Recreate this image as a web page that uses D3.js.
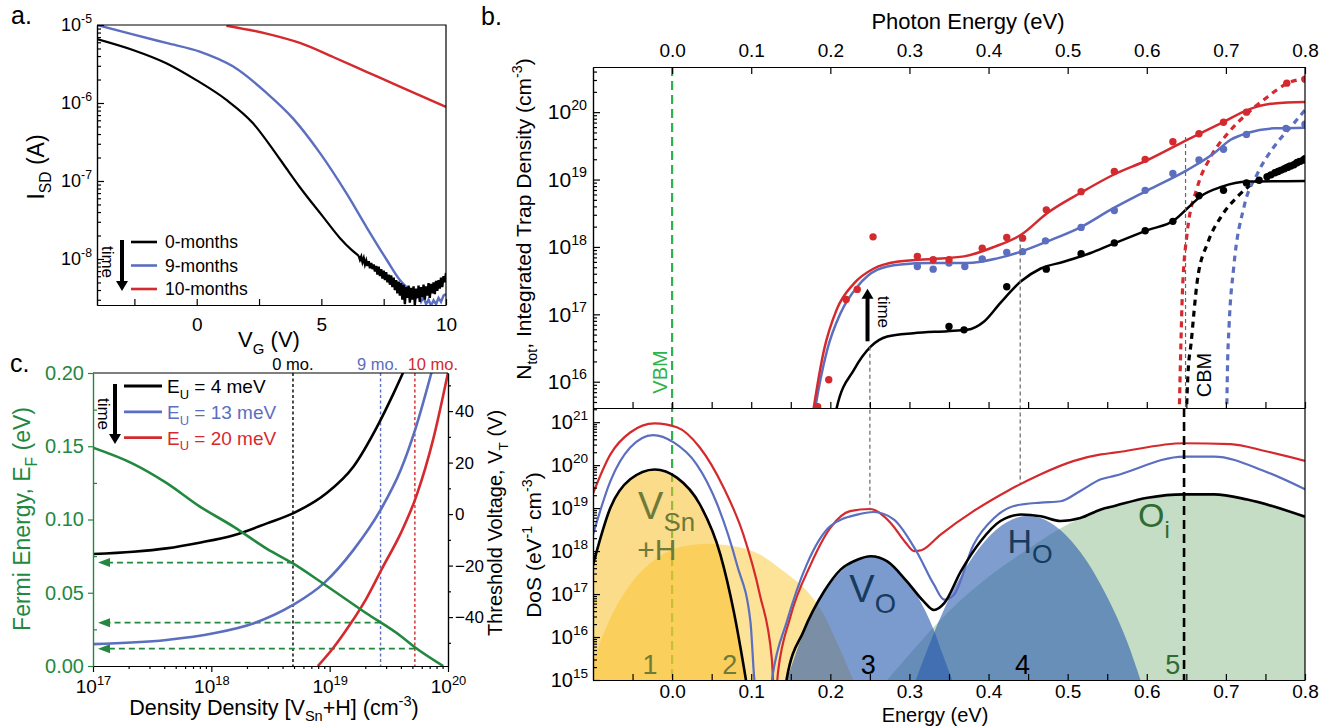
<!DOCTYPE html>
<html>
<head>
<meta charset="utf-8">
<script src="https://cdn.jsdelivr.net/npm/d3@7"></script>
<style>
  body { margin: 0; background: #fff; }
  svg { display: block; }
</style>
</head>
<body>
<svg id="fig" width="1331" height="726"></svg>
<script>
// ---------------- data (log10 values wherever the axis is logarithmic) ----------------

// panel a: transfer curves  [V_G (V), log10 I_SD]
const a0months = [[-4, -5.18], [-2.56, -5.32], [-1.22, -5.49], [0, -5.71], [1.19, -5.96], [2.26, -6.26],
  [3.07, -6.6], [3.6, -6.84], [4.14, -7.08], [5.07, -7.46], [5.74, -7.73], [6.2, -7.88], [6.5, -7.96]];
const a0monthsNoise = [[6.5, -7.96], [6.55, -8.01], [6.6, -7.97], [6.65, -8.04], [6.7, -7.99], [6.75, -8.07],
  [6.8, -8.02], [6.85, -8.09], [6.9, -8.03], [6.95, -8.12], [7.0, -8.05], [7.05, -8.13], [7.1, -8.07],
  [7.15, -8.16], [7.2, -8.09], [7.25, -8.2], [7.3, -8.1], [7.35, -8.22], [7.4, -8.13], [7.45, -8.25],
  [7.5, -8.15], [7.55, -8.27], [7.6, -8.17], [7.65, -8.3], [7.7, -8.2], [7.75, -8.33], [7.8, -8.21],
  [7.85, -8.36], [7.9, -8.24], [7.95, -8.4], [8.0, -8.27], [8.05, -8.44], [8.1, -8.29], [8.15, -8.47],
  [8.2, -8.31], [8.25, -8.52], [8.3, -8.33], [8.35, -8.58], [8.4, -8.36], [8.45, -8.5], [8.5, -8.34],
  [8.55, -8.56], [8.6, -8.37], [8.65, -8.52], [8.7, -8.35], [8.75, -8.59], [8.8, -8.38], [8.85, -8.5],
  [8.9, -8.34], [8.95, -8.55], [9.0, -8.36], [9.05, -8.49], [9.1, -8.33], [9.15, -8.52], [9.2, -8.35],
  [9.25, -8.47], [9.3, -8.31], [9.35, -8.5], [9.4, -8.32], [9.45, -8.44], [9.5, -8.3], [9.55, -8.45],
  [9.6, -8.28], [9.65, -8.41], [9.7, -8.27], [9.75, -8.38], [9.8, -8.24], [9.85, -8.36], [9.9, -8.22],
  [9.95, -8.3], [10.0, -8.18]];
const a9months = [[-4, -5.0], [-2.56, -5.12], [-1.22, -5.23], [0.12, -5.34], [1.45, -5.53], [2.8, -5.87],
  [3.87, -6.2], [4.94, -6.64], [6.01, -7.16], [6.81, -7.59], [7.62, -8.01], [8.15, -8.27], [8.69, -8.44]];
const a9monthsNoise = [[8.69, -8.44], [8.8, -8.5], [8.9, -8.46], [9.0, -8.55], [9.1, -8.49], [9.2, -8.58],
  [9.3, -8.52], [9.4, -8.6], [9.5, -8.53], [9.6, -8.58], [9.7, -8.5], [9.8, -8.55], [9.9, -8.47], [10, -8.45]];
const a10months = [[1.19, -5.01], [2.8, -5.11], [4.14, -5.23], [5.47, -5.41], [6.81, -5.6], [8.15, -5.79], [10, -6.05]];
const aLegend = ["0-months", "9-months", "10-months"];

// panel c: [log10 density, value]
const cFermi = [[17, 0.149], [17.34, 0.138], [17.62, 0.125], [17.9, 0.109], [18.19, 0.095], [18.47, 0.08],
  [18.69, 0.07], [18.95, 0.056], [19.31, 0.036], [19.6, 0.0205], [19.72, 0.0128], [19.96, 0.0]];
const cEU4 = [[17, -15.5], [17.34, -14.6], [17.62, -13.3], [17.9, -11.1], [18.19, -8.2], [18.47, -3.6],
  [18.69, 0.3], [18.97, 8.0], [19.2, 18.4], [19.4, 33.9], [19.54, 46.9], [19.62, 54.9]];
const cEU13 = [[17, -50.5], [17.62, -48.9], [18.02, -46.3], [18.36, -42.4], [18.69, -35.3], [18.95, -26.9],
  [19.2, -14.0], [19.43, 1.6], [19.6, 17.1], [19.73, 33.9], [19.86, 54.9]];
const cEU20 = [[18.9, -59], [19.03, -52], [19.17, -43], [19.31, -32.8], [19.45, -20.5], [19.6, -7.5],
  [19.73, 6.7], [19.88, 30], [20.0, 54.9]];
const cLegend = ["4", "13", "20"];                 // E_U in meV
const cMonthLabels = ["0 mo.", "9 mo.", "10 mo."];
const cMonthDensity = [18.69, 19.43, 19.72];       // log10 density of each ageing state
const cMonthFermi = [0.0706, 0.0296, 0.0118];      // read-off Fermi energy (eV)

// panel b (top): integrated trap density [photon energy, log10 N]
const bFitRed = [[0.175, 15.3], [0.179, 15.61], [0.192, 16.47], [0.208, 17.07], [0.23, 17.46], [0.255, 17.68],
  [0.284, 17.78], [0.327, 17.82], [0.369, 17.86], [0.407, 18.0], [0.441, 18.18], [0.474, 18.5], [0.516, 18.8],
  [0.556, 19.06], [0.601, 19.29], [0.651, 19.59], [0.698, 19.86], [0.727, 20.03], [0.761, 20.13], [0.8, 20.15]];
const bFitBlue = [[0.177, 15.3], [0.181, 15.61], [0.196, 16.47], [0.213, 17.02], [0.234, 17.41], [0.259, 17.66],
  [0.289, 17.74], [0.327, 17.76], [0.373, 17.76], [0.411, 17.83], [0.441, 17.93], [0.474, 18.08], [0.516, 18.29],
  [0.554, 18.55], [0.601, 18.84], [0.651, 19.14], [0.685, 19.39], [0.706, 19.59], [0.727, 19.69], [0.761, 19.76], [0.8, 19.77]];
const bFitBlack = [[0.203, 15.3], [0.208, 15.61], [0.23, 16.18], [0.251, 16.52], [0.272, 16.67], [0.305, 16.72],
  [0.348, 16.75], [0.373, 16.77], [0.394, 16.89], [0.415, 17.17], [0.441, 17.49], [0.466, 17.68], [0.495, 17.78],
  [0.529, 17.91], [0.554, 18.03], [0.601, 18.25], [0.635, 18.4], [0.651, 18.57], [0.668, 18.75], [0.694, 18.89],
  [0.727, 18.97], [0.8, 18.98]];
const bDotsRed = [[0.184, 15.63], [0.198, 16.03], [0.22, 17.22], [0.234, 17.37], [0.254, 18.15], [0.31, 17.86],
  [0.33, 17.81], [0.35, 17.81], [0.392, 17.98], [0.423, 18.14], [0.443, 18.13], [0.473, 18.55], [0.517, 18.82],
  [0.559, 19.12], [0.598, 19.3], [0.633, 19.56], [0.666, 19.68], [0.697, 19.85], [0.726, 20.0], [0.777, 20.43], [0.8, 20.49]];
const bDotsBlue = [[0.31, 17.71], [0.33, 17.67], [0.35, 17.76], [0.37, 17.71], [0.392, 17.82], [0.423, 17.92],
  [0.443, 17.93], [0.472, 18.09], [0.517, 18.29], [0.559, 18.54], [0.598, 18.84], [0.633, 19.09], [0.666, 19.29],
  [0.697, 19.45], [0.726, 19.67], [0.776, 19.76], [0.8, 19.82]];
const bDotsBlack = [[0.35, 16.82], [0.369, 16.77], [0.423, 17.41], [0.473, 17.67], [0.517, 17.9], [0.559, 18.06],
  [0.598, 18.24], [0.633, 18.38], [0.666, 18.76], [0.697, 18.84], [0.726, 18.95], [0.742, 18.99], [0.752, 19.04],
  [0.757, 19.07], [0.762, 19.1], [0.766, 19.12], [0.77, 19.14], [0.774, 19.16], [0.778, 19.18], [0.782, 19.2],
  [0.786, 19.22], [0.79, 19.25], [0.794, 19.27], [0.798, 19.29], [0.8, 19.31]];
const bTailRed = [[0.641, 15.5], [0.643, 16.5], [0.645, 17.31], [0.651, 18.2], [0.664, 18.89], [0.681, 19.34],
  [0.702, 19.68], [0.727, 19.98], [0.753, 20.23], [0.778, 20.43], [0.8, 20.5]];
const bTailBlack = [[0.65, 15.5], [0.652, 16.1], [0.656, 16.57], [0.664, 17.51], [0.677, 18.06], [0.694, 18.45],
  [0.715, 18.75], [0.74, 18.99], [0.761, 19.12], [0.8, 19.34]];
const bTailBlue = [[0.701, 15.5], [0.702, 16.2], [0.704, 16.82], [0.71, 17.71], [0.723, 18.6], [0.74, 19.09],
  [0.761, 19.49], [0.782, 19.78], [0.8, 20.03]];

// panel b (bottom): density of states [energy, log10 DoS]
const bDosRed = [[-0.1, 19.34], [-0.078, 20.25], [-0.053, 20.76], [-0.022, 20.97], [0.006, 20.88], [0.035, 20.41],
  [0.065, 19.48], [0.09, 18.39], [0.111, 16.98], [0.126, 15.5], [0.129, 14.7], [0.131, 14.7], [0.134, 15.2],
  [0.149, 16.44], [0.175, 17.68], [0.2, 18.54], [0.225, 18.93], [0.25, 18.98], [0.276, 18.66], [0.295, 18.2],
  [0.306, 18.0], [0.315, 18.02], [0.339, 18.38], [0.381, 18.93], [0.424, 19.4], [0.466, 19.79], [0.508, 20.1],
  [0.542, 20.25], [0.559, 20.29], [0.647, 20.51], [0.706, 20.49], [0.749, 20.33], [0.8, 20.1]];
const bDosBlue = [[-0.1, 18.38], [-0.078, 19.63], [-0.053, 20.41], [-0.024, 20.7], [0.002, 20.53], [0.031, 20.02],
  [0.057, 19.09], [0.082, 17.68], [0.099, 16.36], [0.104, 15.0], [0.106, 14.7], [0.124, 14.7], [0.127, 15.1],
  [0.145, 16.36], [0.17, 17.68], [0.2, 18.58], [0.234, 18.85], [0.255, 18.91], [0.28, 18.74], [0.309, 17.99],
  [0.331, 17.22], [0.344, 16.87], [0.356, 16.98], [0.381, 18.15], [0.407, 18.77], [0.432, 19.05], [0.466, 19.13],
  [0.491, 19.16], [0.516, 19.4], [0.542, 19.67], [0.559, 19.75], [0.647, 20.2], [0.685, 20.2], [0.749, 19.86], [0.8, 19.44]];
const bDosBlack = [[-0.1, 17.68], [-0.078, 19.01], [-0.053, 19.67], [-0.022, 19.9], [0.006, 19.71], [0.035, 19.09],
  [0.061, 17.92], [0.078, 16.59], [0.093, 15.04], [0.096, 14.7], [0.142, 14.7], [0.145, 15.04], [0.166, 16.13],
  [0.192, 17.06], [0.213, 17.57], [0.234, 17.8], [0.251, 17.88], [0.272, 17.76], [0.297, 17.29], [0.318, 16.83],
  [0.331, 16.63], [0.344, 16.79], [0.365, 17.53], [0.39, 18.23], [0.415, 18.7], [0.441, 18.85], [0.466, 18.81],
  [0.491, 18.7], [0.516, 18.77], [0.542, 18.97], [0.559, 19.05], [0.601, 19.24], [0.647, 19.32], [0.685, 19.32],
  [0.727, 19.2], [0.8, 18.8]];
// individual defect distributions (filled)
const bPeak1 = [[-0.1, 17.6], [-0.078, 18.98], [-0.053, 19.65], [-0.022, 19.9], [0.006, 19.7], [0.035, 19.07],
  [0.061, 17.88], [0.078, 16.5], [0.093, 15.0]];
const bPeak2 = [[-0.1, 15.43], [-0.078, 16.44], [-0.053, 17.22], [-0.019, 17.84], [0.014, 18.11], [0.044, 18.17],
  [0.078, 18.11], [0.111, 17.92], [0.141, 17.53], [0.171, 17.06], [0.192, 16.52], [0.208, 15.89], [0.229, 15.0]];
const bPeak3 = [[0.145, 15.0], [0.166, 16.1], [0.192, 17.03], [0.213, 17.52], [0.234, 17.8], [0.25, 17.88],
  [0.268, 17.8], [0.29, 17.45], [0.31, 16.95], [0.33, 16.2], [0.342, 15.6], [0.354, 15.0]];
const bPeak4 = [[0.308, 15.0], [0.33, 16.05], [0.352, 16.97], [0.38, 17.86], [0.41, 18.5], [0.45, 18.82],
  [0.483, 18.6], [0.516, 17.98], [0.55, 16.93], [0.575, 15.9], [0.592, 15.0]];
const bPeak5 = [[0.272, 15.0], [0.3, 15.6], [0.35, 16.6], [0.4, 17.4], [0.45, 18.05], [0.49, 18.52], [0.52, 18.8],
  [0.56, 19.05], [0.6, 19.22], [0.65, 19.32], [0.69, 19.32], [0.73, 19.2], [0.77, 19.02], [0.8, 18.8]];
const bGuideE = [0.25, 0.44];          // grey guides
const bGuideTop = [16.52, 18.14];      // log10 N where they start (top plot)
const bGuideBottom = [18.95, 19.55];   // log10 DoS where they end (bottom plot)
const bCBM = 0.649, bCBMTop = 19.63;

// ---------------- drawing ----------------
const FONT = "'Liberation Sans', Arial, Helvetica, sans-serif";
const RED = "#d42a2e", BLUE = "#5b6ec0", BLACK = "#000";
const FERMI = "#23883f", VBMC = "#2db34a";
const OLIVE = "#6d7a3a", NAVY = "#173b5e", DKGREEN = "#2f6b32";

const svg = d3.select("#fig").attr("font-family", FONT);
const defs = svg.append("defs");
function clip(id, x0, y0, x1, y1) {
  defs.append("clipPath").attr("id", id).append("rect")
    .attr("x", x0).attr("y", y0).attr("width", x1 - x0).attr("height", y1 - y0);
  return `url(#${id})`;
}
function fixAxis(g, size, color = "#000") {
  g.attr("font-family", FONT).attr("font-size", size);
  g.selectAll(".domain").attr("stroke", color).attr("stroke-width", 1.2);
  g.selectAll(".tick line").attr("stroke", color).attr("stroke-width", 1.2);
  g.selectAll(".tick text").attr("fill", color);
  return g;
}
function powLabels(g, size) {
  g.selectAll(".tick text").each(function (d) {
    const t = d3.select(this).text(null);
    t.append("tspan").text("10");
    t.append("tspan").attr("dy", -size * 0.45).attr("font-size", size * 0.68).text(Math.round(Math.log10(d)));
  });
}
const isDecade = v => Math.abs(Math.log10(v) - Math.round(Math.log10(v))) < 1e-6;
function rich(parent, x, y, parts, size, opt = {}) {
  const t = parent.append("text").attr("x", x).attr("y", y).attr("font-size", size)
    .attr("text-anchor", opt.anchor || "start").attr("fill", opt.fill || "#000");
  if (opt.rotate) t.attr("transform", `rotate(${opt.rotate},${x},${y})`);
  let shift = 0;
  parts.forEach(([str, kind, sc]) => {
    const target = kind === "sub" ? size * 0.3 : kind === "sup" ? -size * 0.42 : 0;
    const s = t.append("tspan").attr("dy", target - shift).text(str);
    if (kind) s.attr("font-size", size * (sc || 0.68));
    shift = target;
  });
  return t;
}
function downArrow(g, x, y0, y1, up) {
  const dir = up ? -1 : 1;
  g.append("line").attr("x1", x).attr("x2", x).attr("y1", y0).attr("y2", y1 - dir * 9)
    .attr("stroke", "#000").attr("stroke-width", 4);
  g.append("path").attr("d", `M${x - 6},${y1 - dir * 10}L${x + 6},${y1 - dir * 10}L${x},${y1}Z`).attr("fill", "#000");
}

// ===== panel a =====
const xA = d3.scaleLinear().domain([-4, 10]).range([97, 446]);
const yA = d3.scaleLog().domain([10 ** -8.59, 1e-5]).range([305, 25]);
const gA = svg.append("g");
const lineA = d3.line().x(d => xA(d[0])).y(d => yA(10 ** d[1]));
const plotA = gA.append("g").attr("clip-path", clip("clipA", 97, 25, 446, 305));
plotA.append("path").attr("d", lineA.curve(d3.curveMonotoneX)(a10months)).attr("fill", "none").attr("stroke", RED).attr("stroke-width", 2.4);
plotA.append("path").attr("d", lineA.curve(d3.curveMonotoneX)(a9months)).attr("fill", "none").attr("stroke", BLUE).attr("stroke-width", 2.4);
plotA.append("path").attr("d", lineA.curve(d3.curveLinear)(a9monthsNoise)).attr("fill", "none").attr("stroke", BLUE).attr("stroke-width", 2.4);
plotA.append("path").attr("d", lineA.curve(d3.curveMonotoneX)(a0months)).attr("fill", "none").attr("stroke", BLACK).attr("stroke-width", 2.2);
plotA.append("path").attr("d", lineA.curve(d3.curveLinear)(a0monthsNoise)).attr("fill", "none").attr("stroke", BLACK).attr("stroke-width", 2.4);

gA.append("path").attr("d", `M${xA(-4)},${yA(1e-5)}H${xA(10)}V${yA.range()[0]}`).attr("fill", "none").attr("stroke", "#000").attr("stroke-width", 1.2);
fixAxis(gA.append("g").attr("transform", "translate(0,305)")
  .call(d3.axisBottom(xA).tickValues([-2.5, 0, 2.5, 5, 7.5, 10]).tickSize(-6).tickSizeOuter(0).tickPadding(13)
    .tickFormat(d => d % 5 === 0 ? d : "")), 19);
const aMaj = yA.ticks().filter(isDecade);
const axAL = gA.append("g").attr("transform", "translate(97,0)")
  .call(d3.axisLeft(yA).tickValues(aMaj).tickSize(-7).tickSizeOuter(0).tickPadding(5));
powLabels(axAL, 18); fixAxis(axAL, 18);
fixAxis(gA.append("g").attr("transform", "translate(97,0)")
  .call(d3.axisLeft(yA).tickValues(yA.ticks().filter(v => !isDecade(v))).tickSize(-4).tickSizeOuter(0).tickFormat("")), 18);

gA.append("text").attr("x", 11).attr("y", 24).attr("font-size", 25).text("a.");
rich(gA, 44, 167, [["I"], ["SD", "sub"], [" (A)"]], 23, { anchor: "middle", rotate: -90 });
rich(gA, 269, 347, [["V"], ["G", "sub"], [" (V)"]], 22, { anchor: "middle" });
[BLACK, BLUE, RED].forEach((c, i) => {
  const y = 242 + i * 23.5;
  gA.append("line").attr("x1", 131).attr("x2", 157).attr("y1", y).attr("y2", y).attr("stroke", c).attr("stroke-width", 2.6);
  gA.append("text").attr("x", 165).attr("y", y + 6).attr("font-size", 17.5).text(aLegend[i]);
});
downArrow(gA, 122, 240, 291);
gA.append("text").attr("x", 102).attr("y", 262).attr("font-size", 17).attr("text-anchor", "middle")
  .attr("transform", "rotate(90,102,262)").text("time");

// ===== panel c =====
const xC = d3.scaleLog().domain([1e17, 1e20]).range([93, 448]);
const yCL = d3.scaleLinear().domain([0, 0.2]).range([666, 373]);
const yCR = d3.scaleLinear().domain([-59.0, 54.8]).range([666, 373]);
const gC = svg.append("g");
const plotC = gC.append("g").attr("clip-path", clip("clipC", 93, 373, 448, 666));
const lineCR = d3.line().x(d => xC(10 ** d[0])).y(d => yCR(d[1])).curve(d3.curveMonotoneX);
const lineCL = d3.line().x(d => xC(10 ** d[0])).y(d => yCL(d[1])).curve(d3.curveMonotoneX);
const cColors = [BLACK, BLUE, RED];
cMonthDensity.forEach((n, i) => {
  plotC.append("line").attr("x1", xC(10 ** n)).attr("x2", xC(10 ** n)).attr("y1", yCL(0.2)).attr("y2", yCL(0))
    .attr("stroke", cColors[i]).attr("stroke-width", 1.4).attr("stroke-dasharray", "3,2.5");
  const ya = yCL(cMonthFermi[i]);
  plotC.append("line").attr("x1", xC(10 ** n)).attr("x2", 106).attr("y1", ya).attr("y2", ya)
    .attr("stroke", FERMI).attr("stroke-width", 1.8).attr("stroke-dasharray", "6,4");
  plotC.append("path").attr("d", `M${xC(1e17) + 5},${ya}L${xC(1e17) + 17},${ya - 4.5}L${xC(1e17) + 17},${ya + 4.5}Z`).attr("fill", FERMI);
});
[cEU4, cEU13, cEU20].forEach((s, i) => {
  plotC.append("path").attr("d", lineCR(s)).attr("fill", "none").attr("stroke", cColors[i]).attr("stroke-width", 2.6);
});
plotC.append("path").attr("d", lineCL(cFermi)).attr("fill", "none").attr("stroke", FERMI).attr("stroke-width", 2.6);

gC.append("line").attr("x1", 93).attr("x2", 448).attr("y1", 373).attr("y2", 373).attr("stroke", "#000").attr("stroke-width", 1.2);
const axCB = gC.append("g").attr("transform", "translate(0,666)")
  .call(d3.axisBottom(xC).tickValues(xC.ticks().filter(isDecade)).tickSize(6).tickSizeOuter(0).tickPadding(8));
powLabels(axCB, 19); fixAxis(axCB, 19);
fixAxis(gC.append("g").attr("transform", "translate(0,666)")
  .call(d3.axisBottom(xC).tickValues(xC.ticks().filter(v => !isDecade(v))).tickSize(3).tickSizeOuter(0).tickFormat("")), 18);
fixAxis(gC.append("g").attr("transform", "translate(93,0)")
  .call(d3.axisLeft(yCL).tickValues([0, 0.05, 0.1, 0.15, 0.2]).tickSize(5).tickSizeOuter(0).tickPadding(4).tickFormat(d3.format(".2f"))), 20, FERMI);
fixAxis(gC.append("g").attr("transform", "translate(93,0)")
  .call(d3.axisLeft(yCL).tickValues([0.025, 0.075, 0.125, 0.175]).tickSize(-4).tickSizeOuter(0).tickFormat("")), 20, FERMI);
fixAxis(gC.append("g").attr("transform", "translate(448,0)")
  .call(d3.axisRight(yCR).tickValues([-40, -20, 0, 20, 40]).tickSize(5).tickSizeOuter(0).tickPadding(2)), 17);
fixAxis(gC.append("g").attr("transform", "translate(448,0)")
  .call(d3.axisRight(yCR).tickValues([-50, -30, -10, 10, 30, 50]).tickSize(3).tickSizeOuter(0).tickFormat("")), 17);

gC.append("text").attr("x", 10).attr("y", 372).attr("font-size", 25).text("c.");
rich(gC, 30, 519, [["Fermi Energy, E"], ["F", "sub"], [" (eV)"]], 23, { anchor: "middle", rotate: -90, fill: FERMI });
rich(gC, 502, 523, [["Threshold Voltage, V"], ["T", "sub"], [" (V)"]], 20, { anchor: "middle", rotate: -90 });
rich(gC, 274, 715, [["Density Density [V"], ["Sn", "sub"], ["+H] (cm"], ["-3", "sup"], [")"]], 21.5, { anchor: "middle" });
const cLabelDx = [0, -3, 18];
cMonthDensity.forEach((n, i) => {
  gC.append("text").attr("x", xC(10 ** n) + cLabelDx[i]).attr("y", 370).attr("font-size", 16.5)
    .attr("text-anchor", "middle").attr("fill", cColors[i]).text(cMonthLabels[i]);
});
cLegend.forEach((v, i) => {
  const y = 386 + i * 25.8;
  gC.append("line").attr("x1", 124).attr("x2", 162).attr("y1", y).attr("y2", y).attr("stroke", cColors[i]).attr("stroke-width", 2.8);
  rich(gC, 167, y + 7, [["E"], ["U", "sub"], [` = ${v} meV`]], 19, { fill: cColors[i] });
});
downArrow(gC, 115, 384, 444);
gC.append("text").attr("x", 98).attr("y", 414).attr("font-size", 17).attr("text-anchor", "middle")
  .attr("transform", "rotate(90,98,414)").text("time");

// ===== panel b =====
const xB = d3.scaleLinear().domain([-0.1, 0.8]).range([593, 1305]);
const yBT = d3.scaleLog().domain([10 ** 15.61, 10 ** 20.67]).range([408, 67]);
const yBB = d3.scaleLog().domain([1e15, 10 ** 21.33]).range([680, 408]);
const gB = svg.append("g");
const lineT = d3.line().x(d => xB(d[0])).y(d => yBT(10 ** d[1])).curve(d3.curveMonotoneX);
const lineBB = d3.line().x(d => xB(d[0])).y(d => yBB(10 ** d[1])).curve(d3.curveMonotoneX);
const areaBB = d3.area().x(d => xB(d[0])).y0(yBB(1e15)).y1(d => yBB(10 ** d[1])).curve(d3.curveMonotoneX);

// VBM line through both plots
gB.append("line").attr("x1", xB(0)).attr("x2", xB(0)).attr("y1", 67).attr("y2", 680)
  .attr("stroke", VBMC).attr("stroke-width", 2.2).attr("stroke-dasharray", "9,5");

// bottom plot fills + lines
const plotBB = gB.append("g").attr("clip-path", clip("clipBB", 593, 408, 1305, 680));
const fills = [[bPeak5, "#6eaa6e", 0.4], [bPeak2, "#fac832", 0.5], [bPeak1, "#f7c02c", 0.55],
  [bPeak4, "#2a5caf", 0.6], [bPeak3, "#2a5caf", 0.62]];
fills.forEach(([pts, c, op]) => plotBB.append("path").attr("d", areaBB(pts)).attr("fill", c).attr("fill-opacity", op));
[[bDosRed, RED], [bDosBlue, BLUE], [bDosBlack, BLACK]].forEach(([pts, c]) => {
  plotBB.append("path").attr("d", lineBB(pts)).attr("fill", "none").attr("stroke", c).attr("stroke-width", c === BLACK ? 2.6 : 2.2);
});

// top plot
const plotBT = gB.append("g").attr("clip-path", clip("clipBT", 593, 67, 1305, 408));
[[bTailRed, RED], [bTailBlack, BLACK], [bTailBlue, BLUE]].forEach(([pts, c]) => {
  plotBT.append("path").attr("d", lineT(pts)).attr("fill", "none").attr("stroke", c).attr("stroke-width", 3.2).attr("stroke-dasharray", "6,5");
});
[[bFitBlack, BLACK], [bFitBlue, BLUE], [bFitRed, RED]].forEach(([pts, c]) => {
  plotBT.append("path").attr("d", lineT(pts)).attr("fill", "none").attr("stroke", c).attr("stroke-width", 2.5);
});
[[bDotsBlack, BLACK], [bDotsBlue, BLUE], [bDotsRed, RED]].forEach(([pts, c]) => {
  plotBT.selectAll(null).data(pts).enter().append("circle")
    .attr("cx", d => xB(d[0])).attr("cy", d => yBT(10 ** d[1])).attr("r", 3.7).attr("fill", c);
});

// guides
bGuideE.forEach((e, i) => {
  gB.append("line").attr("x1", xB(e)).attr("x2", xB(e)).attr("y1", yBT(10 ** bGuideTop[i])).attr("y2", yBB(10 ** bGuideBottom[i]))
    .attr("stroke", "#666").attr("stroke-width", 1.2).attr("stroke-dasharray", "4,3");
});
gB.append("line").attr("x1", xB(bCBM)).attr("x2", xB(bCBM)).attr("y1", yBT(10 ** bCBMTop)).attr("y2", 408)
  .attr("stroke", "#666").attr("stroke-width", 1.2).attr("stroke-dasharray", "4,3");
gB.append("line").attr("x1", xB(bCBM) - 1.5).attr("x2", xB(bCBM) - 1.5).attr("y1", 408).attr("y2", 680)
  .attr("stroke", "#000").attr("stroke-width", 2.6).attr("stroke-dasharray", "9,5");

// frames + axes
gB.append("path").attr("d", "M1305,67V680").attr("stroke", "#000").attr("stroke-width", 1.2);
fixAxis(gB.append("g").attr("transform", "translate(0,67)")
  .call(d3.axisTop(xB).tickValues(d3.range(0, 0.81, 0.1)).tickSize(-7).tickSizeOuter(0).tickPadding(10).tickFormat(d3.format(".1f"))), 19);
fixAxis(gB.append("g").attr("transform", "translate(0,408)")
  .call(d3.axisBottom(xB).tickValues(d3.range(-0.05, 0.81, 0.05)).tickSize(-6).tickSizeOuter(0).tickFormat("")), 19);
fixAxis(gB.append("g").attr("transform", "translate(0,680)")
  .call(d3.axisBottom(xB).tickValues(d3.range(-0.05, 0.81, 0.05)).tickSize(-6).tickSizeOuter(0).tickPadding(5)
    .tickFormat(d => Math.abs(Math.round(d * 20) % 2) === 0 ? d3.format(".1f")(d) : "")), 19);
const axBT = gB.append("g").attr("transform", "translate(593,0)")
  .call(d3.axisLeft(yBT).tickValues(yBT.ticks().filter(isDecade)).tickSize(-7).tickSizeOuter(0).tickPadding(6));
powLabels(axBT, 21); fixAxis(axBT, 21);
fixAxis(gB.append("g").attr("transform", "translate(593,0)")
  .call(d3.axisLeft(yBT).tickValues(yBT.ticks().filter(v => !isDecade(v))).tickSize(-4).tickSizeOuter(0).tickFormat("")), 20);
const axBB = gB.append("g").attr("transform", "translate(593,0)")
  .call(d3.axisLeft(yBB).tickValues(yBB.ticks().filter(isDecade)).tickSize(-7).tickSizeOuter(0).tickPadding(5));
powLabels(axBB, 20); fixAxis(axBB, 20);
fixAxis(gB.append("g").attr("transform", "translate(593,0)")
  .call(d3.axisLeft(yBB).tickValues(yBB.ticks().filter(v => !isDecade(v))).tickSize(-4).tickSizeOuter(0).tickFormat("")), 20);

// texts
gB.append("text").attr("x", 481).attr("y", 25).attr("font-size", 25).text("b.");
gB.append("text").attr("x", 968).attr("y", 29).attr("font-size", 22).attr("text-anchor", "middle").text("Photon Energy (eV)");
gB.append("text").attr("x", 935).attr("y", 722).attr("font-size", 20).attr("text-anchor", "middle").text("Energy (eV)");
rich(gB, 531, 219, [["N"], ["tot", "sub"], [", Integrated Trap Density (cm"], ["-3", "sup"], [")"]], 21, { anchor: "middle", rotate: -90 });
rich(gB, 541, 545, [["DoS (eV"], ["-1", "sup"], [" cm"], ["-3", "sup"], [")"]], 21, { anchor: "middle", rotate: -90 });
gB.append("text").attr("x", 667).attr("y", 372).attr("font-size", 20).attr("text-anchor", "middle").attr("fill", VBMC)
  .attr("transform", "rotate(-90,667,372)").text("VBM");
gB.append("text").attr("x", 1211).attr("y", 375).attr("font-size", 20).attr("text-anchor", "middle")
  .attr("transform", "rotate(-90,1211,375)").text("CBM");
downArrow(gB, xB(0.247), yBT(10 ** 16.6), yBT(10 ** 17.38), true);
gB.append("text").attr("x", 878).attr("y", 312).attr("font-size", 17).attr("text-anchor", "middle")
  .attr("transform", "rotate(90,878,312)").text("time");

// defect labels in the DoS plot
rich(gB, xB(-0.043), yBB(10 ** 18.74), [["V"], ["Sn", "sub", 0.68]], 38, { fill: OLIVE });
rich(gB, xB(-0.044), yBB(10 ** 17.8), [["+H"]], 30, { fill: OLIVE });
rich(gB, xB(0.224), yBB(10 ** 16.82), [["V"], ["O", "sub", 0.72]], 38, { fill: NAVY });
rich(gB, xB(0.424), yBB(10 ** 17.96), [["H"], ["O", "sub", 0.78]], 34, { fill: NAVY });
rich(gB, xB(0.589), yBB(10 ** 18.55), [["O"], ["i", "sub", 0.7]], 34, { fill: DKGREEN });
[["1", -0.028, OLIVE], ["2", 0.073, OLIVE], ["3", 0.248, BLACK], ["4", 0.443, BLACK], ["5", 0.633, DKGREEN]].forEach(([t, e, c]) => {
  gB.append("text").attr("x", xB(e)).attr("y", 674).attr("font-size", 27).attr("text-anchor", "middle").attr("fill", c).text(t);
});
</script>
</body>
</html>
